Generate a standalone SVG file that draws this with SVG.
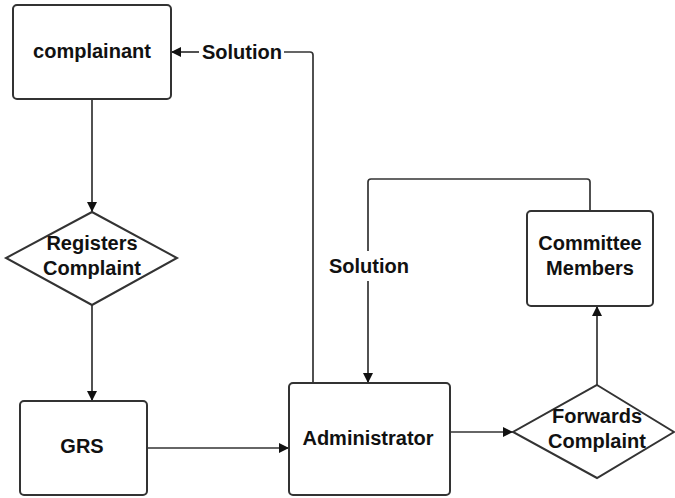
<svg xmlns="http://www.w3.org/2000/svg" width="675" height="498" viewBox="0 0 675 498">
<style>
.box{fill:#fff;stroke:#333;stroke-width:2}
.ln{fill:none;stroke:#333;stroke-width:1.7}
text{font-family:"Liberation Sans",Arial,sans-serif;font-weight:bold;font-size:20px;fill:#111;text-anchor:middle}
</style>
<defs>
<marker id="ar" viewBox="0 0 10 10" refX="10" refY="5" markerWidth="10" markerHeight="10" markerUnits="userSpaceOnUse" orient="auto">
<path d="M0,0 L10,5 L0,10 z" fill="#111"/>
</marker>
</defs>
<rect width="675" height="498" fill="#fff"/>
<g id="connectors">
<path class="ln" d="M92,100 V212" marker-end="url(#ar)"/>
<path class="ln" d="M92,305 V401" marker-end="url(#ar)"/>
<path class="ln" d="M147,448 H289" marker-end="url(#ar)"/>
<path class="ln" d="M450,432 H513" marker-end="url(#ar)"/>
<path class="ln" d="M597,385 V306" marker-end="url(#ar)"/>
<path class="ln" d="M313,383 V55 Q313,52 310,52 H284"/>
<path class="ln" d="M199,52 H171" marker-end="url(#ar)"/>
<path class="ln" d="M590,211 V182 Q590,179 587,179 H371 Q368,179 368,182 V251"/>
<path class="ln" d="M368,281 V383" marker-end="url(#ar)"/>
<text x="242" y="59">Solution</text>
<text x="369" y="273">Solution</text>
</g>
<g id="complainant">
<rect class="box" x="13" y="5" width="158" height="94" rx="4"/>
<text x="92" y="58">complainant</text>
</g>
<g id="registers">
<polygon class="box" points="92,212 177,258 92,305 6,258"/>
<text x="92" y="250">Registers</text>
<text x="92" y="275">Complaint</text>
</g>
<g id="grs">
<rect class="box" x="20" y="401" width="127" height="94" rx="4"/>
<text x="82" y="453">GRS</text>
</g>
<g id="administrator">
<rect class="box" x="289" y="383" width="161" height="112" rx="4"/>
<text x="368" y="445">Administrator</text>
</g>
<g id="forwards">
<polygon class="box" points="597,385 674,432 597,478 513,432"/>
<text x="597" y="423">Forwards</text>
<text x="597" y="448">Complaint</text>
</g>
<g id="committee">
<rect class="box" x="527" y="211" width="126" height="95" rx="4"/>
<text x="590" y="250">Committee</text>
<text x="590" y="275">Members</text>
</g>
</svg>
